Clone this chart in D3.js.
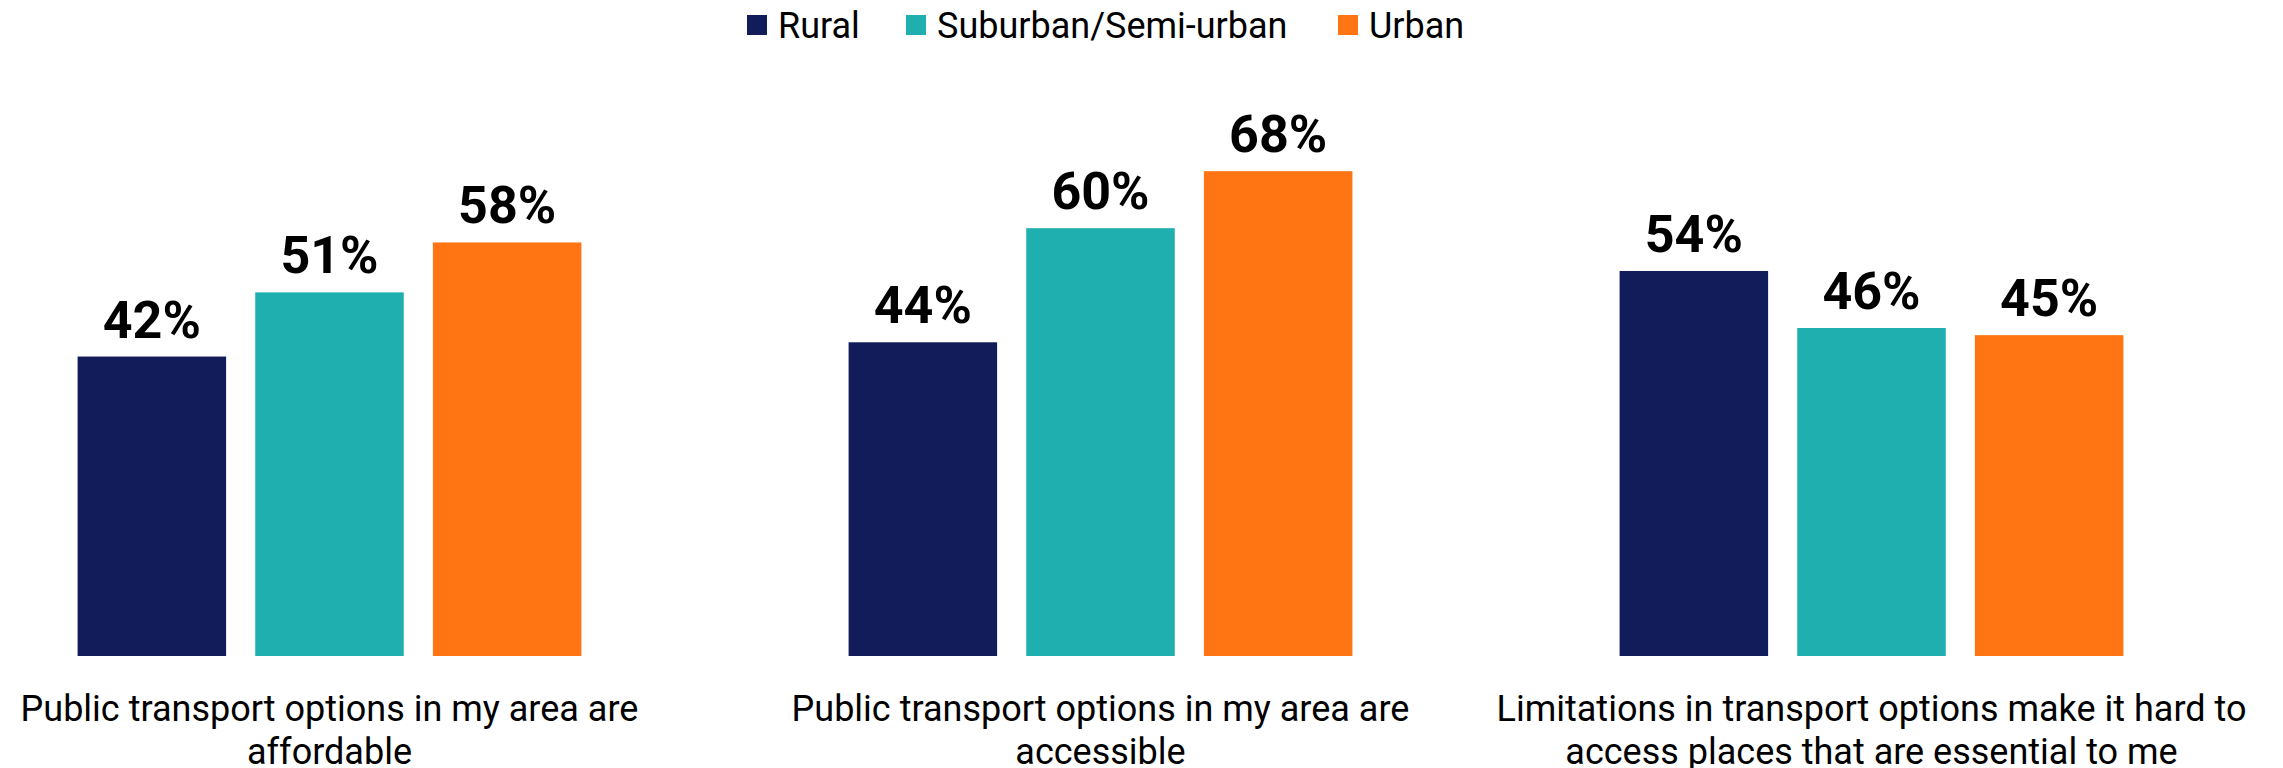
<!DOCTYPE html>
<html>
<head>
<meta charset="utf-8">
<script src="https://cdn.jsdelivr.net/npm/d3@7"></script>
<style>
  html, body { margin: 0; padding: 0; background: #ffffff; }
  svg { display: block; }
</style>
</head>
<body>
<svg id="chart" width="2283" height="768"></svg>
<script>
const categories = [
  ["Public transport options in my area are", "affordable"],
  ["Public transport options in my area are", "accessible"],
  ["Limitations in transport options make it hard to", "access places that are essential to me"]
];
const seriesNames = ["Rural", "Suburban/Semi-urban", "Urban"];
const rural = [42, 44, 54];
const suburban = [51, 60, 46];
const urban = [58, 68, 45];
const colors = ["#121c5a", "#1eafae", "#ff7513"];

const seriesValues = [rural, suburban, urban];
const W = 2283, H = 768;
const svg = d3.select("#chart");

const catIdx = categories.map((c, i) => i);
const x0 = d3.scaleBand().domain(catIdx).range([-56, 2257]).padding(0);
const x1 = d3.scaleBand().domain(seriesNames).range([0, x0.bandwidth()])
  .paddingInner(0.164).paddingOuter(0.752);
const y = d3.scaleLinear().domain([0, 100]).range([656, 656 - 713]);

const fontFam = "Roboto, 'Noto Sans', sans-serif";

const groups = svg.append("g").selectAll("g")
  .data(catIdx).join("g")
  .attr("transform", d => `translate(${x0(d)},0)`);

groups.selectAll("rect")
  .data(ci => seriesNames.map((s, si) => ({ s, si, v: seriesValues[si][ci] })))
  .join("rect")
  .attr("x", d => x1(d.s))
  .attr("y", d => y(d.v))
  .attr("width", x1.bandwidth())
  .attr("height", d => y(0) - y(d.v))
  .attr("fill", d => colors[d.si]);

groups.selectAll("text.val")
  .data(ci => seriesNames.map((s, si) => ({ s, si, v: seriesValues[si][ci] })))
  .join("text")
  .attr("class", "val")
  .attr("x", d => x1(d.s) + x1.bandwidth() / 2)
  .attr("y", d => y(d.v) - 19)
  .attr("text-anchor", "middle")
  .attr("font-family", fontFam)
  .attr("font-weight", 700)
  .attr("font-size", 52)
  .attr("fill", "#000")
  .text(d => d.v + "%");

// category labels
groups.each(function(ci) {
  const g = d3.select(this);
  const t = g.append("text")
    .attr("text-anchor", "middle")
    .attr("font-family", fontFam)
    .attr("font-size", 36)
    .attr("fill", "#000");
  categories[ci].forEach((line, li) => {
    t.append("tspan")
      .attr("x", x0.bandwidth() / 2)
      .attr("y", 721 + li * 43)
      .text(line);
  });
});

// legend
const legendX = [747, 906, 1338];
const lg = svg.append("g").selectAll("g").data(seriesNames).join("g")
  .attr("transform", (d, i) => `translate(${legendX[i]},0)`);
lg.append("rect").attr("x", 0).attr("y", 15).attr("width", 20).attr("height", 20)
  .attr("fill", (d, i) => colors[i]);
lg.append("text").attr("x", 31).attr("y", 38)
  .attr("font-family", fontFam).attr("font-size", 36).attr("fill", "#000")
  .text(d => d);
</script>
</body>
</html>
